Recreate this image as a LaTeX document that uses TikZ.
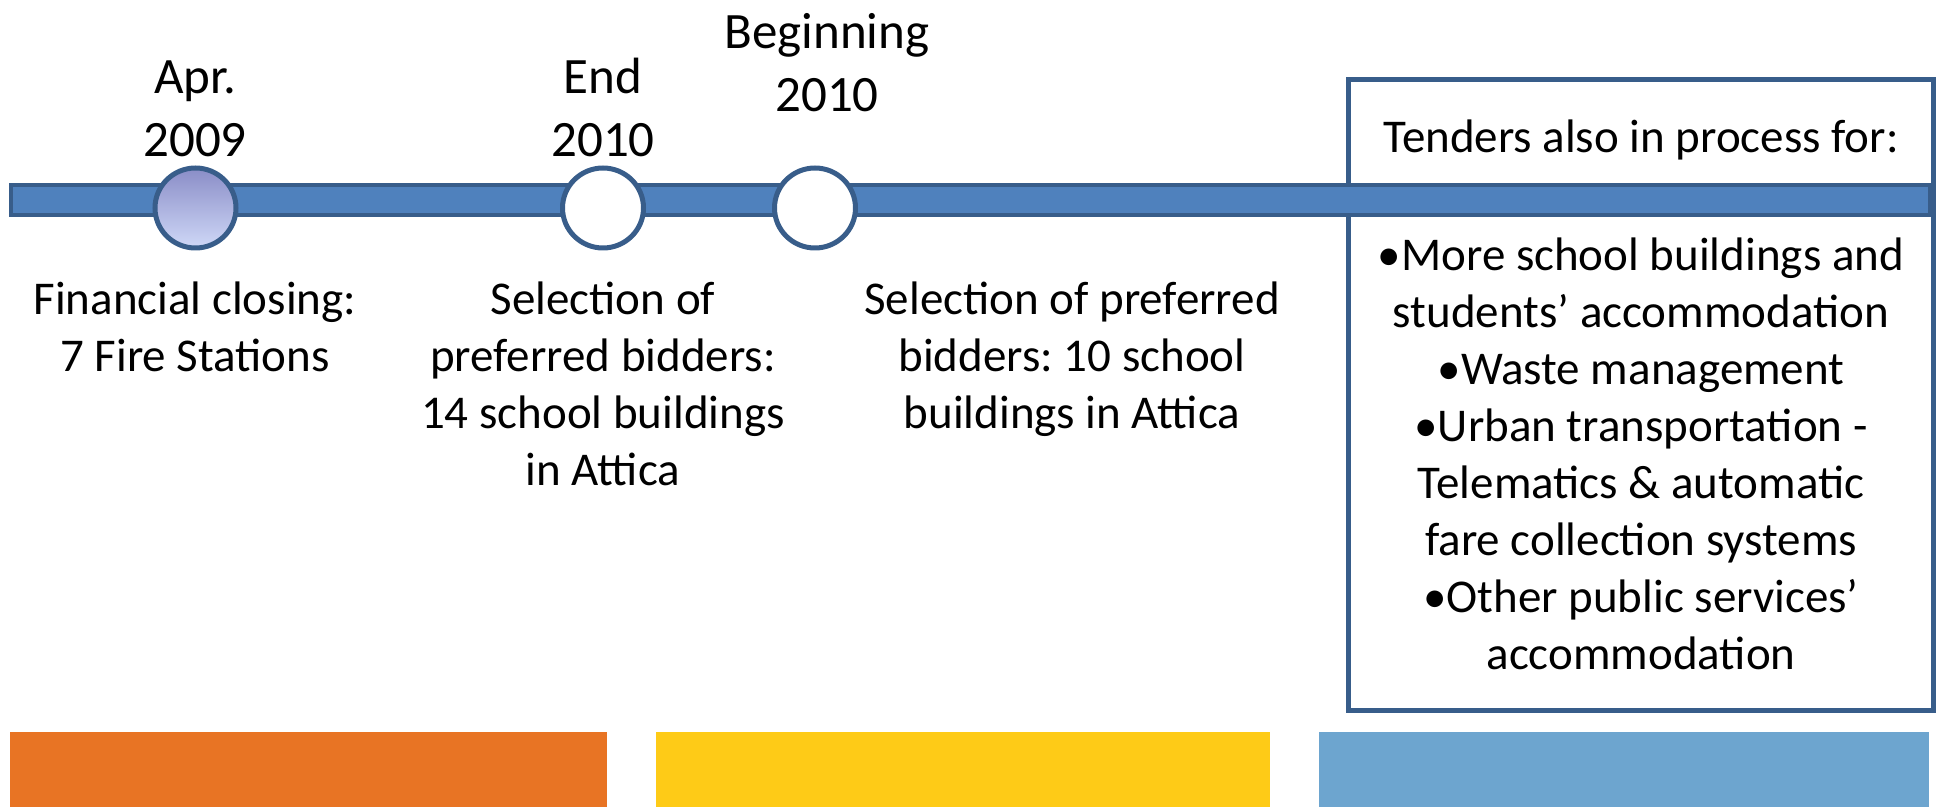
\documentclass[tikz,border=0pt]{standalone}
\usepackage{fontspec}
\setmainfont{Carlito}
\usetikzlibrary{shapes.geometric}

\definecolor{barblue}{HTML}{4F81BD}
\definecolor{edgeblue}{HTML}{385D8A}
\definecolor{dotdark}{HTML}{8A8DC7}
\definecolor{dotlight}{HTML}{CFD8F7}
\definecolor{phaseorange}{HTML}{E87424}
\definecolor{phaseyellow}{HTML}{FECB17}
\definecolor{phaseblue}{HTML}{6DA5CF}

% labels sit on the baseline of their last line
\tikzset{
    datelabel/.style={align=center, anchor=base, inner sep=0pt,
        font=\fontsize{25.5}{31.85}\selectfont},
    desclabel/.style={align=center, anchor=base, inner sep=0pt,
        font=\fontsize{23.5}{28.5}\selectfont},
    milestone/.style={ellipse, draw=edgeblue, line width=2.5pt, fill=white,
        minimum width=40.5pt, minimum height=40pt, inner sep=0pt}
}

\begin{document}
\frenchspacing
\begin{tikzpicture}[x=0.5pt, y=-0.5pt]
    \useasboundingbox (0,0) rectangle (1939,807);

    % phase strips along the bottom
    \fill[phaseorange] (10,732) rectangle (607,807);
    \fill[phaseyellow] (656,732) rectangle (1270,807);
    \fill[phaseblue] (1319,732) rectangle (1929,807);

    % box for the other tenders
    \draw[edgeblue, line width=2.5pt, fill=white] (1348.5,79.5) rectangle (1933.5,710.5);

    % time line
    \draw[edgeblue, line width=2pt, fill=barblue] (11,185) rectangle (1930,215);

    \node[milestone, top color=dotdark, bottom color=dotlight] (apr) at (195.5,208) {};
    \node[milestone] (endten) at (603,208) {};
    \node[milestone] (begten) at (815,208) {};

    % dates above the line
    \node[datelabel] (aprdate) at (195,157) {Apr.\\2009};
    \node[datelabel] (enddate) at (603,157) {End\\2010};
    \node[datelabel] (begdate) at (827,112) {Beginning\\2010};

    % what happened at each date
    \node[desclabel] (aprtext) at (195,372) {Financial closing:\\7 Fire Stations};
    \node[desclabel] (endtext) at (603,486) {Selection of\\preferred bidders:\\14 school buildings\\in Attica};
    \node[desclabel] (begtext) at (1072,429) {Selection of preferred\\bidders: 10 school\\buildings in Attica};

    \node[desclabel] (tenders) at (1641,153) {Tenders also in process for:};
    \node[desclabel] (tenderlist) at (1641,669) {\textbullet More school buildings and\\students' accommodation\\\textbullet Waste management\\\textbullet Urban transportation -\\Telematics \& automatic\\fare collection systems\\\textbullet Other public services'\\accommodation};
\end{tikzpicture}
\end{document}
